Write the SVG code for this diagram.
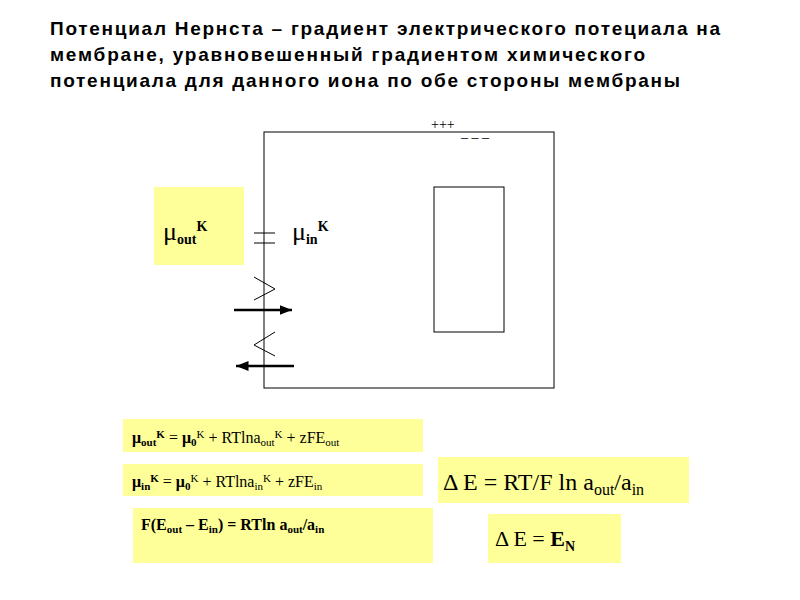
<svg xmlns="http://www.w3.org/2000/svg" width="800" height="600" viewBox="0 0 800 600">
<style>
.t{font-family:"Liberation Sans",Arial,sans-serif;font-weight:bold;font-size:19px;fill:#000}
.f{font-family:"Liberation Serif","Times New Roman",serif;fill:#000}
.y{fill:#ffff99}
.l{fill:none;stroke:#000;stroke-width:1}
.a{stroke:#000;stroke-width:2.5}
</style>
<defs><marker id="ah" markerWidth="6" markerHeight="6" refX="5" refY="3" orient="auto" markerUnits="strokeWidth"><path d="M0,1 L5,3 L0,5z" fill="#000"/></marker></defs>
<g id="title" class="t">
<text x="50" y="35" textLength="670" lengthAdjust="spacing">Потенциал Нернста – градиент электрического потециала на</text>
<text x="50" y="61" textLength="595" lengthAdjust="spacing">мембране, уравновешенный градиентом химического</text>
<text x="50" y="87" textLength="630" lengthAdjust="spacing">потенциала для данного иона по обе стороны мембраны</text>
</g>
<g id="cell">
<rect class="l" x="264" y="132" width="290" height="256"/>
<rect class="l" x="434" y="187" width="70" height="145"/>
<text class="f" x="431" y="129" font-size="14">+++</text>
<text class="f" x="461" y="142" font-size="14">– – –</text>
</g>
<g id="muout"><rect class="y" x="154" y="187" width="90" height="78"/>
<text class="f" x="163" y="240" font-size="26">μ<tspan font-size="14" font-weight="bold" dy="4">out</tspan><tspan font-size="14" font-weight="bold" dy="-13">K</tspan></text></g>
<g id="muin"><text class="f" x="292" y="240" font-size="26">μ<tspan font-size="14" font-weight="bold" dy="4">in</tspan><tspan font-size="14" font-weight="bold" dy="-13">K</tspan></text></g>
<g id="channels" class="l">
<line x1="254" y1="233" x2="275" y2="233"/><line x1="254" y1="243" x2="275" y2="243"/>
<polyline points="254,277 275,289 254,300"/>
<polyline points="275,332 254,345 275,356"/>
</g>
<g id="connectors">
<line class="a" x1="234" y1="310" x2="292" y2="310" marker-end="url(#ah)"/>
<line class="a" x1="294" y1="366" x2="236" y2="366" marker-end="url(#ah)"/>
</g>
<g id="eq1"><rect class="y" x="123" y="419" width="300" height="33"/>
<text class="f" x="132" y="443" font-size="16"><tspan font-weight="bold">μ</tspan><tspan font-size="11" font-weight="bold" dy="3">out</tspan><tspan font-size="11" font-weight="bold" dy="-8">K</tspan><tspan dy="5"> = </tspan><tspan font-weight="bold">μ</tspan><tspan font-size="11" font-weight="bold" dy="3">0</tspan><tspan font-size="11" dy="-8">K</tspan><tspan dy="5"> + RTlna</tspan><tspan font-size="11" dy="3">out</tspan><tspan font-size="11" dy="-8">K</tspan><tspan dy="5">  + zFE</tspan><tspan font-size="11" dy="3">out</tspan></text></g>
<g id="eq2"><rect class="y" x="123" y="464" width="300" height="32"/>
<text class="f" x="132" y="487" font-size="16"><tspan font-weight="bold">μ</tspan><tspan font-size="11" font-weight="bold" dy="3">in</tspan><tspan font-size="11" font-weight="bold" dy="-8">K</tspan><tspan dy="5"> = </tspan><tspan font-weight="bold">μ</tspan><tspan font-size="11" font-weight="bold" dy="3">0</tspan><tspan font-size="11" dy="-8">K</tspan><tspan dy="5"> + RTlna</tspan><tspan font-size="11" dy="3">in</tspan><tspan font-size="11" dy="-8">K</tspan><tspan dy="5">  + zFE</tspan><tspan font-size="11" dy="3">in</tspan></text></g>
<g id="eq3"><rect class="y" x="133" y="508" width="300" height="55"/>
<text class="f" x="141" y="530" font-size="16" font-weight="bold">F(E<tspan font-size="11" dy="3">out</tspan><tspan dy="-3"> – E</tspan><tspan font-size="11" dy="3">in</tspan><tspan dy="-3">) = RTln  a</tspan><tspan font-size="11" dy="3">out</tspan><tspan dy="-3">/a</tspan><tspan font-size="11" dy="3">in</tspan></text></g>
<g id="eq4"><rect class="y" x="438" y="457" width="251" height="46"/>
<text class="f" x="443" y="490" font-size="24">Δ E = RT/F ln a<tspan font-size="16" dy="5">out</tspan><tspan dy="-5">/a</tspan><tspan font-size="16" dy="5">in</tspan></text></g>
<g id="eq5"><rect class="y" x="488" y="514" width="133" height="49"/>
<text class="f" x="495" y="546" font-size="22">Δ E = <tspan font-weight="bold">E</tspan><tspan font-size="14" font-weight="bold" dy="5">N</tspan></text></g>
</svg>
